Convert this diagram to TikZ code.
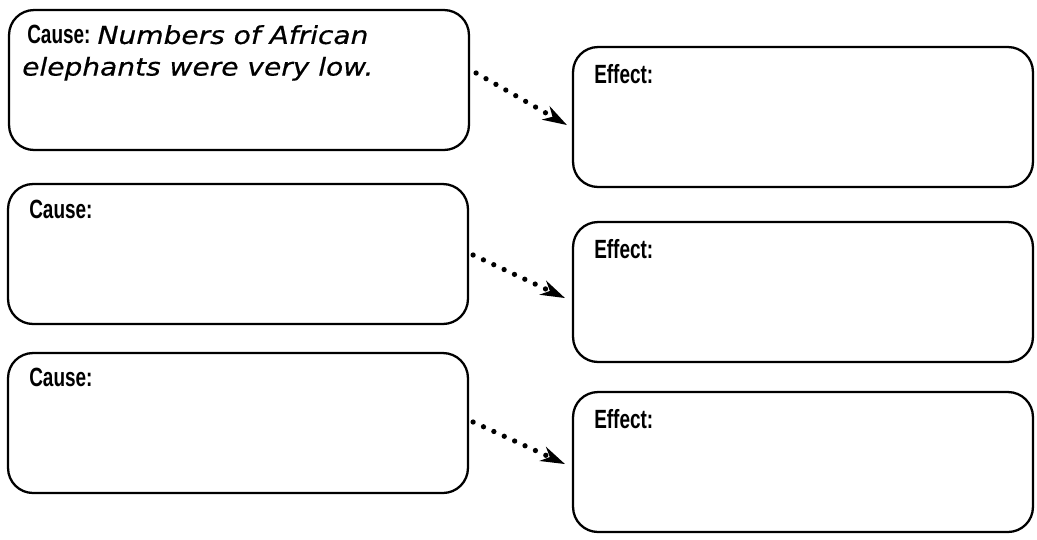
\documentclass[tikz,border=0pt]{standalone}
\usepackage{fontspec}
\setmainfont{Liberation Sans}
\newfontfamily\headfont[FakeStretch=0.72]{Liberation Sans}
\newfontfamily\handfont[FakeStretch=1.14,FakeBold=0.6]{DejaVu Sans}
\usetikzlibrary{arrows.meta}

\newcommand{\hand}{\handfont\mdseries\itshape\fontsize{14}{17}\selectfont}

\begin{document}
\begin{tikzpicture}[x=0.02cm,y=-0.02cm]
	\useasboundingbox (0,0) rectangle (1037,539);
		\begin{scope}[every node/.style={draw,line width=1.3pt,rounded corners=0.5cm,minimum width=9.2cm,minimum height=2.8cm,inner sep=0pt}]
			\node (C1) at (239,80) {};
			\node (C2) at (238,254) {};
			\node (C3) at (238,423) {};
			\node (E1) at (803,117) {};
			\node (E2) at (803,292) {};
			\node (E3) at (803,462) {};
		\end{scope}
		
		\begin{scope}[every node/.style={anchor=north west,inner sep=0pt,align=left,
					  font=\headfont\bfseries\fontsize{15}{17}\selectfont}]
			\node (T1) at ([shift={(19,16)}]C1.north west) {Cause: {\hand Numbers of African}\\[1pt]
				\hspace*{-0.1cm}{\hand elephants were very low.}};
			\node (T2) at ([shift={(22,17)}]C2.north west) {Cause:};
			\node (T3) at ([shift={(22,16)}]C3.north west) {Cause:};
			\node (U1) at ([shift={(22,18)}]E1.north west) {Effect:};
			\node (U2) at ([shift={(22,18)}]E2.north west) {Effect:};
			\node (U3) at ([shift={(22,18)}]E3.north west) {Effect:};
		\end{scope}
		
		\begin{scope}[>={Stealth[black,length=14pt,width=9pt,line width=0pt]},
					  every edge/.style={draw=black,line width=3pt,line cap=round,dash pattern=on 0pt off 6.5pt}]
			\path [->] ([shift={(6,-7)}]C1.east) edge ([shift={(-5,8)}]E1.west);
			\path [->] ([shift={(4,1)}]C2.east) edge ([shift={(-7,6)}]E2.west);
			\path [->] ([shift={(4,-1)}]C3.east) edge ([shift={(-7,2)}]E3.west);
		\end{scope}
\end{tikzpicture}
\end{document}
